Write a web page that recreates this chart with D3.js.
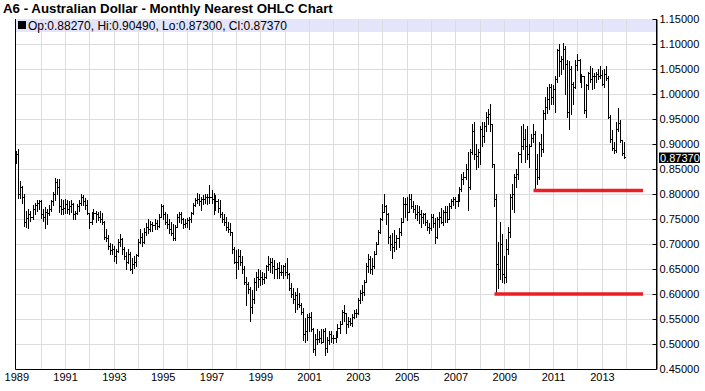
<!DOCTYPE html>
<html><head><meta charset="utf-8">
<script src="https://cdn.jsdelivr.net/npm/d3@7"></script>
<style>body{margin:0;background:#fff}svg{display:block}</style>
</head><body><svg id="c" width="705" height="391"></svg>
<script>
const title = "A6 - Australian Dollar - Monthly Nearest OHLC Chart";
const firstBar = new Date(1989, 0, 1);
const opens = [
.872,.880,.800,.815,.795,.745,.752,.760,.755,.770,.778,.782,
.785,.760,.755,.765,.762,.770,.785,.800,.825,.815,.775,.770,
.772,.780,.770,.775,.780,.760,.762,.775,.783,.795,.785,.778,
.762,.745,.755,.762,.760,.755,.750,.745,.715,.712,.697,.688,
.690,.675,.685,.705,.710,.690,.675,.665,.680,.650,.660,.665,
.678,.705,.715,.705,.725,.735,.730,.740,.738,.742,.737,.755,
.775,.760,.745,.740,.730,.722,.712,.735,.755,.760,.750,.740,
.742,.748,.750,.762,.778,.788,.790,.785,.790,.790,.795,.795,
.795,.790,.775,.785,.772,.760,.750,.745,.735,.730,.725,.690,
.665,.665,.675,.665,.650,.625,.620,.610,.575,.590,.625,.635,
.630,.635,.630,.635,.655,.660,.665,.655,.650,.652,.645,.645,
.655,.645,.640,.612,.600,.590,.598,.580,.578,.565,.520,.525,
.555,.555,.530,.490,.510,.510,.512,.505,.525,.492,.508,.520,
.512,.512,.520,.532,.540,.565,.562,.540,.545,.542,.555,.562,
.563,.588,.602,.605,.625,.655,.670,.650,.655,.680,.700,.725,
.750,.765,.775,.760,.715,.700,.695,.705,.712,.725,.745,.780,
.780,.765,.790,.775,.770,.760,.765,.760,.755,.760,.745,.735,
.732,.755,.742,.715,.750,.755,.745,.765,.765,.750,.775,.785,
.790,.785,.790,.810,.830,.835,.850,.815,.885,.925,.880,.875,
.885,.930,.915,.935,.955,.960,.940,.860,.790,.660,.650,.700,
.640,.635,.690,.725,.795,.800,.835,.840,.880,.895,.910,.895,
.880,.895,.912,.920,.850,.835,.900,.890,.963,.975,.990,1.015,
.995,1.010,1.030,1.088,1.065,1.070,1.090,1.060,.965,1.050,1.020,1.015,
1.058,1.068,1.030,1.035,.968,1.018,1.042,1.030,1.035,1.035,1.040,1.035,
1.038,1.020,1.040,1.032,.955,.910,.893,.888,.930,.942,.908,.8827
];
const highs = [
.887,.890,.826,.816,.800,.767,.770,.767,.777,.783,.787,.788,
.787,.770,.773,.770,.777,.787,.803,.833,.830,.830,.790,.787,
.790,.788,.785,.788,.782,.767,.780,.787,.800,.797,.793,.787,
.762,.765,.770,.767,.765,.767,.762,.747,.730,.717,.703,.700,
.697,.690,.710,.720,.712,.695,.683,.690,.683,.673,.677,.680,
.710,.730,.723,.733,.743,.750,.747,.745,.750,.748,.760,.780,
.777,.765,.760,.750,.745,.740,.738,.760,.765,.765,.752,.750,
.752,.755,.765,.782,.792,.802,.800,.795,.797,.800,.800,.819,
.809,.802,.798,.789,.787,.765,.759,.755,.745,.742,.725,.695,
.689,.690,.689,.675,.655,.635,.625,.615,.609,.632,.645,.650,
.649,.645,.642,.659,.675,.672,.672,.668,.662,.665,.659,.659,
.662,.672,.642,.622,.612,.605,.612,.602,.582,.572,.552,.560,
.562,.565,.532,.520,.530,.525,.530,.530,.532,.515,.525,.525,
.519,.525,.539,.545,.569,.579,.562,.555,.552,.560,.569,.570,
.592,.609,.619,.628,.662,.679,.675,.672,.685,.705,.729,.752,
.780,.800,.779,.762,.719,.722,.728,.719,.732,.752,.795,.792,
.795,.799,.799,.785,.779,.779,.775,.769,.762,.762,.749,.742,
.759,.759,.752,.755,.765,.772,.769,.775,.775,.782,.789,.795,
.795,.800,.815,.840,.845,.860,.885,.890,.940,.945,.900,.890,
.935,.945,.945,.965,.970,.980,.940,.860,.800,.705,.745,.720,
.675,.710,.735,.800,.820,.840,.850,.885,.935,.940,.930,.935,
.900,.920,.940,.925,.880,.905,.920,.968,.995,1.015,1.020,1.020,
1.018,1.035,1.090,1.100,1.075,1.102,1.095,1.068,1.065,1.055,1.025,1.068,
1.080,1.070,1.040,1.036,1.020,1.045,1.055,1.052,1.042,1.045,1.050,1.055,
1.048,1.050,1.055,1.035,.958,.928,.905,.945,.972,.948,.908,.9049
];
const lows = [
.863,.792,.792,.783,.737,.735,.733,.747,.750,.760,.767,.770,
.753,.747,.733,.740,.757,.767,.777,.787,.800,.765,.760,.760,
.763,.762,.760,.765,.750,.750,.760,.767,.777,.777,.770,.760,
.733,.740,.750,.745,.748,.745,.740,.710,.707,.690,.680,.680,
.667,.663,.683,.697,.680,.670,.650,.662,.647,.643,.653,.657,
.677,.703,.697,.703,.717,.723,.727,.727,.730,.730,.735,.755,
.750,.740,.733,.723,.717,.708,.709,.735,.745,.742,.732,.735,
.735,.730,.745,.760,.775,.782,.778,.769,.780,.783,.781,.782,
.782,.759,.768,.765,.755,.745,.739,.729,.725,.719,.682,.662,
.632,.650,.659,.642,.620,.579,.602,.545,.562,.582,.609,.615,
.619,.620,.622,.632,.649,.645,.642,.632,.632,.632,.639,.632,
.639,.632,.609,.595,.582,.565,.570,.575,.560,.509,.505,.509,
.525,.525,.485,.478,.500,.505,.502,.505,.479,.485,.500,.505,
.502,.505,.515,.522,.539,.545,.522,.535,.538,.537,.552,.555,
.559,.582,.589,.599,.625,.645,.642,.640,.652,.680,.700,.722,
.749,.765,.740,.702,.689,.672,.685,.690,.695,.719,.745,.755,
.749,.765,.772,.765,.752,.749,.742,.735,.742,.739,.729,.722,
.729,.735,.702,.712,.735,.742,.739,.745,.745,.750,.772,.779,
.772,.775,.785,.805,.820,.830,.768,.810,.880,.870,.850,.855,
.860,.895,.905,.925,.940,.925,.855,.775,.600,.612,.630,.625,
.622,.625,.680,.715,.770,.765,.815,.830,.865,.890,.865,.870,
.855,.895,.905,.807,.820,.830,.875,.885,.950,.962,.970,.980,
.980,.965,1.025,1.035,1.040,1.050,1.000,.955,.930,.960,.980,1.012,
1.048,1.025,1.015,.962,.955,1.010,1.025,1.010,1.012,1.025,1.030,1.032,
1.018,1.015,1.028,.952,.905,.888,.882,.885,.925,.905,.878,.8730
];
const closes = [
.880,.800,.815,.795,.745,.752,.760,.755,.770,.778,.782,.785,
.760,.755,.765,.762,.770,.785,.800,.825,.815,.775,.770,.772,
.780,.770,.775,.780,.760,.762,.775,.783,.795,.785,.778,.762,
.745,.755,.762,.760,.755,.750,.745,.715,.712,.697,.688,.690,
.675,.685,.705,.710,.690,.675,.665,.680,.650,.660,.665,.678,
.705,.715,.705,.725,.735,.730,.740,.738,.742,.737,.755,.775,
.760,.745,.740,.730,.722,.712,.735,.755,.760,.750,.740,.742,
.748,.750,.762,.778,.788,.790,.785,.790,.790,.795,.795,.795,
.790,.775,.785,.772,.760,.750,.745,.735,.730,.725,.690,.665,
.665,.675,.665,.650,.625,.620,.610,.575,.590,.625,.635,.630,
.635,.630,.635,.655,.660,.665,.655,.650,.652,.645,.645,.655,
.645,.640,.612,.600,.590,.598,.580,.578,.565,.520,.525,.555,
.555,.530,.490,.510,.510,.512,.505,.525,.492,.508,.520,.512,
.512,.520,.532,.540,.565,.562,.540,.545,.542,.555,.562,.563,
.588,.602,.605,.625,.655,.670,.650,.655,.680,.700,.725,.750,
.765,.775,.760,.715,.700,.695,.705,.712,.725,.745,.780,.780,
.765,.790,.775,.770,.760,.765,.760,.755,.760,.745,.735,.732,
.755,.742,.715,.750,.755,.745,.765,.765,.750,.775,.785,.790,
.785,.790,.810,.830,.835,.850,.815,.885,.925,.880,.875,.885,
.930,.915,.935,.955,.960,.940,.860,.790,.660,.650,.700,.640,
.635,.690,.725,.795,.800,.835,.840,.880,.895,.910,.895,.880,
.895,.912,.920,.850,.835,.900,.890,.963,.975,.990,1.015,.995,
1.010,1.030,1.088,1.065,1.070,1.090,1.060,.965,1.050,1.020,1.015,1.058,
1.068,1.030,1.035,.968,1.018,1.042,1.030,1.035,1.035,1.040,1.035,1.038,
1.020,1.040,1.032,.955,.910,.893,.888,.930,.942,.908,.8827,.8737
];
const yTicks = [0.45,0.50,0.55,0.60,0.65,0.70,0.75,0.80,0.85,0.90,0.95,1.00,1.05,1.10,1.15];
const gridLevels = [0.50,0.55,0.60,0.65,0.70,0.75,0.80,0.85,0.90,0.95,1.00,1.05,1.10];
const gridYears = [1990,1991,1992,1993,1994,1995,1996,1997,1998,1999,2000,2001,2002,2003,2004,2005,2006,2007,2008,2009,2010,2011,2012,2013,2014];
const labelYears = [1989,1991,1993,1995,1997,1999,2001,2003,2005,2007,2009,2011,2013];
const supportBars = [236, 255];
const supportEnd = new Date(2014, 8, 1);

const bars = closes.map((c, i) => ({date: new Date(1989, i, 1), o: opens[i], h: highs[i], l: lows[i], c}));
const last = bars[bars.length - 1];

const svg = d3.select("#c");
const L = 15.5, R = 656.5, T = 19, B = 369;
const FONT = "'Liberation Sans', Arial, sans-serif";
const x = d3.scaleTime().domain([new Date(1989,0,1), new Date(2014,0,1)]).range([16.3, 626.3]);
const y = d3.scaleLinear().domain([0.45, 1.15]).range([B, T]);
const px = d => Math.round(x(d)) + 0.5;
const py = v => Math.round(y(v)) + 0.5;

// header band
svg.append("rect").attr("x", 16).attr("y", 19).attr("width", 640).attr("height", 13).attr("fill", "#e4e4fa");

// gridlines
const grid = svg.append("g").attr("stroke", "#dcdcdc").attr("stroke-width", 1).attr("shape-rendering", "crispEdges");
grid.selectAll(".gv").data(gridYears).join("line")
  .attr("x1", d => px(new Date(d,0,1))).attr("x2", d => px(new Date(d,0,1)))
  .attr("y1", T).attr("y2", B);
grid.selectAll(".gh").data(gridLevels).join("line")
  .attr("x1", L).attr("x2", R).attr("y1", d => py(d)).attr("y2", d => py(d));

// header text
svg.append("text").attr("x", 3).attr("y", 13).attr("font-family", FONT).attr("font-size", 13.3).attr("font-weight", "bold").attr("fill", "#000").text(title);
svg.append("rect").attr("x", 18).attr("y", 21).attr("width", 8).attr("height", 8).attr("fill", "#000");
const f5 = d3.format(".5f");
svg.append("text").attr("x", 28).attr("y", 29.5).attr("font-family", FONT).attr("font-size", 12).attr("fill", "#000")
  .text(`Op:${f5(last.o)}, Hi:${f5(last.h)}, Lo:${f5(last.l)}, Cl:${f5(last.c)}`);

// OHLC bars
const path = d3.path();
bars.forEach(b => {
  const xx = px(b.date);
  path.moveTo(xx, Math.round(y(b.h))); path.lineTo(xx, Math.round(y(b.l)) + 1);
  path.moveTo(xx - 1.5, py(b.o)); path.lineTo(xx, py(b.o));
  path.moveTo(xx, py(b.c)); path.lineTo(xx + 1.5, py(b.c));
});
svg.append("path").attr("d", path.toString()).attr("stroke", "#000").attr("stroke-width", 1).attr("fill", "none").attr("shape-rendering", "crispEdges");

// support lines
svg.selectAll(".sup").data(supportBars).join("line")
  .attr("x1", i => px(bars[i].date) - 2).attr("x2", Math.round(x(supportEnd)))
  .attr("y1", i => y(bars[i].l)).attr("y2", i => y(bars[i].l))
  .attr("stroke", "#ee1c25").attr("stroke-width", 3.5);

// axes
const axR = d3.axisRight(y).tickValues(yTicks).tickFormat(d3.format(".5f")).tickSizeInner(-4).tickSizeOuter(0).tickPadding(3);
const gR = svg.append("g").attr("transform", `translate(${R},0)`).call(axR);
gR.attr("font-family", FONT).attr("font-size", 11);
gR.selectAll("text").attr("fill", "#000");
gR.selectAll("line, path").attr("stroke", "#000");

const axB = d3.axisBottom(x).tickValues(labelYears.map(yr => new Date(yr,0,1))).tickFormat(d3.timeFormat("%Y")).tickSize(0).tickPadding(4);
const gB = svg.append("g").attr("transform", `translate(0,${B})`).call(axB);
gB.select(".domain").remove();
gB.attr("font-family", FONT).attr("font-size", 11);
gB.selectAll("text").attr("fill", "#000");

svg.append("path").attr("d", `M${L},${T}V${B + 0.5}H${R}V${T}`).attr("fill", "none").attr("stroke", "#000").attr("stroke-width", 1);

// last price marker
const yc = y(last.c);
svg.append("rect").attr("x", 659).attr("y", Math.round(yc) - 4.5).attr("width", 41).attr("height", 10.5).attr("fill", "#000");
svg.append("text").attr("x", 660).attr("y", Math.round(yc) + 4.5).attr("font-family", FONT).attr("font-size", 11).attr("fill", "#fff").text(f5(last.c));
</script></body></html>
